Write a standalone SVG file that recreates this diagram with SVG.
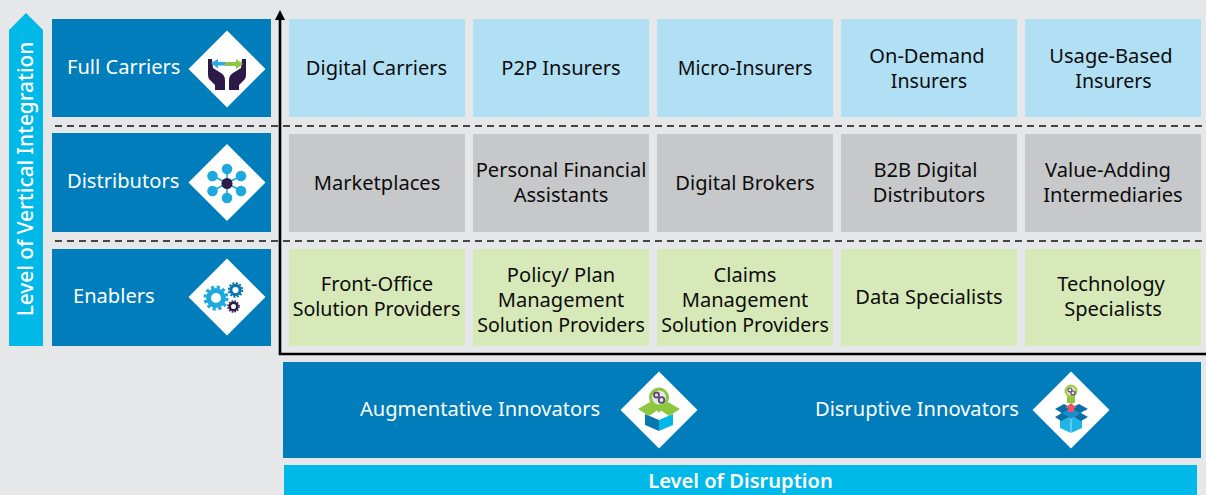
<svg xmlns="http://www.w3.org/2000/svg" width="1206" height="495" viewBox="0 0 1206 495">
<style>
text{font-family:"Noto Sans","Open Sans","Liberation Sans",sans-serif}
.l{font-size:20.100px;fill:#fff}
.c{font-size:20.100px;fill:#0c0c0c;text-anchor:middle}
.s{font-size:19.600px}
.blue{fill:#007dba}.cy{fill:#00b9e8}.lb{fill:#b1e0f5}.gr{fill:#c7c8ca}.gn{fill:#d8e9b9}
.d{fill:#fff}.pu{fill:#2d1a47}.lime{fill:#8dc63f}
.dash{stroke:#111;stroke-width:1.300;stroke-dasharray:7 5;fill:none}
</style>
<defs>
<polygon id="dia" class="d" points="0,-38.500 38.500,0 0,38.500 -38.500,0"/>
<g id="gear"><circle r="7.500" fill="none" stroke-width="5" stroke="currentColor"/><circle r="11" fill="none" stroke-width="3" stroke-dasharray="3.200 2.600" stroke="currentColor"/></g>
</defs>
<rect width="1206" height="495" fill="#e6e7e9"/>

<g id="axis-vertical">
<polygon class="cy" points="26,13 43,30 43,346 9,346 9,30"/>
<text class="l" transform="translate(33,179) rotate(-90)" text-anchor="middle" font-weight="500" style="font-size:20.800px">Level of Vertical Integration</text>
</g>

<g id="full-carriers">
<rect class="blue" x="52" y="19" width="219" height="98"/>
<text class="l" x="67" y="74">Full Carriers</text>
<use href="#dia" x="227" y="69"/>
<path class="pu" d="M208 59h4l1 9 8 5c3 2 4 4 4 8v9h-10v-5l-6-6c-1-2-1-4-1-6zM246 59h-4l-1 9-8 5c-3 2-4 4-4 8v9h10v-5l6-6c1-2 1-4 1-6z"/>
<path fill="#29abe2" d="M211 63l7-4v3h9v3.500h-9v3z"/>
<path class="lime" d="M243 64l-7-5v3h-11v4h11v3z"/>
</g>

<g id="distributors">
<rect class="blue" x="52" y="133" width="219" height="99"/>
<text class="l" x="67" y="188">Distributors</text>
<use href="#dia" x="227" y="182.500"/>
<g stroke="#1caade" stroke-width="1.600" fill="#1caade">
<path d="M227 183V170M227 183V199M227 183L212.500 176M227 183L241 176M227 183L212.500 191M227 183L241 191"/>
<circle cx="227" cy="169" r="4.500"/><circle cx="227" cy="198" r="4.500"/><circle cx="212.500" cy="176" r="4.500"/><circle cx="241" cy="176" r="4.500"/><circle cx="212.500" cy="191" r="4.500"/><circle cx="241" cy="191" r="4.500"/>
</g>
<circle class="pu" cx="227" cy="183.500" r="5.500"/>
</g>

<g id="enablers">
<rect class="blue" x="52" y="249" width="219" height="97"/>
<text class="l" x="73" y="303">Enablers</text>
<use href="#dia" x="227" y="297"/>
<use href="#gear" x="216" y="298" color="#1caade"/>
<use href="#gear" transform="translate(235.500,290) scale(.62)" color="#0a76b0"/>
<use href="#gear" transform="translate(233.500,306.500) scale(.5)" color="#2d1a47"/>
</g>

<g id="connectors">
<path class="dash" d="M55 126H1206M55 241H1206"/>
<path d="M280 16V354H1206" fill="none" stroke="#000" stroke-width="2.600"/>
<polygon points="280,10 285,20 275,20" fill="#000"/>
</g>

<g id="digital-carriers"><rect class="lb" x="289" y="19" width="176" height="98"/><text class="c" x="376.500" y="75">Digital Carriers</text></g>
<g id="p2p-insurers"><rect class="lb" x="473" y="19" width="176" height="98"/><text class="c" x="561" y="75">P2P Insurers</text></g>
<g id="micro-insurers"><rect class="lb" x="657" y="19" width="176" height="98"/><text class="c s" x="745" y="75">Micro-Insurers</text></g>
<g id="on-demand-insurers"><rect class="lb" x="841" y="19" width="176" height="98"/><text class="c" x="927" y="63">On-Demand</text><text class="c s" x="929" y="88">Insurers</text></g>
<g id="usage-based-insurers"><rect class="lb" x="1025" y="19" width="176" height="98"/><text class="c" x="1111" y="63">Usage-Based</text><text class="c s" x="1113.500" y="88">Insurers</text></g>

<g id="marketplaces"><rect class="gr" x="289" y="134" width="176" height="98"/><text class="c" x="377" y="190">Marketplaces</text></g>
<g id="personal-financial-assistants"><rect class="gr" x="473" y="134" width="176" height="98"/><text class="c" x="561" y="177">Personal Financial</text><text class="c" x="561" y="202">Assistants</text></g>
<g id="digital-brokers"><rect class="gr" x="657" y="134" width="176" height="98"/><text class="c" x="745" y="190">Digital Brokers</text></g>
<g id="b2b-digital-distributors"><rect class="gr" x="841" y="134" width="176" height="98"/><text class="c" x="925.500" y="177">B2B Digital</text><text class="c" x="929" y="202">Distributors</text></g>
<g id="value-adding-intermediaries"><rect class="gr" x="1025" y="134" width="176" height="98"/><text class="c" x="1108" y="177">Value-Adding</text><text class="c" x="1113" y="202">Intermediaries</text></g>

<g id="front-office"><rect class="gn" x="289" y="249" width="176" height="97"/><text class="c" x="377" y="291">Front-Office</text><text class="c s" x="376.500" y="316">Solution Providers</text></g>
<g id="policy-plan"><rect class="gn" x="473" y="249" width="176" height="97"/><text class="c" x="561" y="282">Policy/ Plan</text><text class="c" x="561" y="307">Management</text><text class="c s" x="561" y="332">Solution Providers</text></g>
<g id="claims"><rect class="gn" x="657" y="249" width="176" height="97"/><text class="c" x="745" y="282">Claims</text><text class="c" x="745" y="307">Management</text><text class="c s" x="745" y="332">Solution Providers</text></g>
<g id="data-specialists"><rect class="gn" x="841" y="249" width="176" height="97"/><text class="c" x="929" y="304">Data Specialists</text></g>
<g id="technology-specialists"><rect class="gn" x="1025" y="249" width="176" height="97"/><text class="c" x="1111" y="291">Technology</text><text class="c" x="1113" y="316">Specialists</text></g>

<g id="innovators-band"><rect class="blue" x="283" y="362" width="918" height="96"/></g>

<g id="augmentative-innovators">
<text class="l" x="360" y="416">Augmentative Innovators</text>
<use href="#dia" x="659" y="410"/>
<path fill="#0a76b0" d="M645 414l14 6v11l-14-6z"/>
<path class="cy" d="M673 414l-14 6v11l14-6z"/>
<path class="lime" d="M638 409l12-7 9 7 9-7 12 7-11 7-10-7-10 7z"/>
<path class="lime" d="M652 404l7 9 7-9z"/>
<circle cx="659" cy="397.500" r="8.500" fill="#e6e7e9" stroke="#8dc63f" stroke-width="3"/>
<circle cx="656.500" cy="395" r="2.500" fill="none" stroke="#5b4a78" stroke-width="1.800"/>
<circle cx="661.500" cy="400" r="2.800" fill="none" stroke="#5b4a78" stroke-width="1.800"/>
</g>

<g id="disruptive-innovators">
<text class="l" x="815" y="416">Disruptive Innovators</text>
<use href="#dia" x="1071" y="410"/>
<path fill="#1fb5e6" d="M1060 414l11 5 11-5v14l-11 5-11-5z"/>
<path fill="#1a8fd0" d="M1060 413l11-6 11 6-11 6z"/>
<path fill="#0a6ea6" d="M1055 409l9-5 7 4-9 5zM1088 409l-9-5-8 4 9 5zM1055 417l7-4 7 4-8 4zM1088 417l-7-4-7 4 7 4z"/>
<path d="M1071 419v14" stroke="#9fdcf3" stroke-width="1"/>
<path class="lime" d="M1067 396h8v7h-8z"/>
<path fill="#e8566c" d="M1071 403l6 5h-3v4h-6v-4h-3z"/>
<circle cx="1071" cy="391" r="5.300" fill="#e6e7e9" stroke="#a4cd39" stroke-width="2.400"/>
<circle cx="1070" cy="390" r="2" fill="none" stroke="#5b4a78" stroke-width="1.200"/>
<circle cx="1073" cy="393" r="2" fill="none" stroke="#5b4a78" stroke-width="1.200"/>
</g>

<g id="level-of-disruption">
<rect class="cy" x="284" y="465" width="913" height="30"/>
<text x="740.500" y="488" text-anchor="middle" fill="#fff" font-weight="600" style="font-size:20.100px">Level of Disruption</text>
</g>
</svg>
